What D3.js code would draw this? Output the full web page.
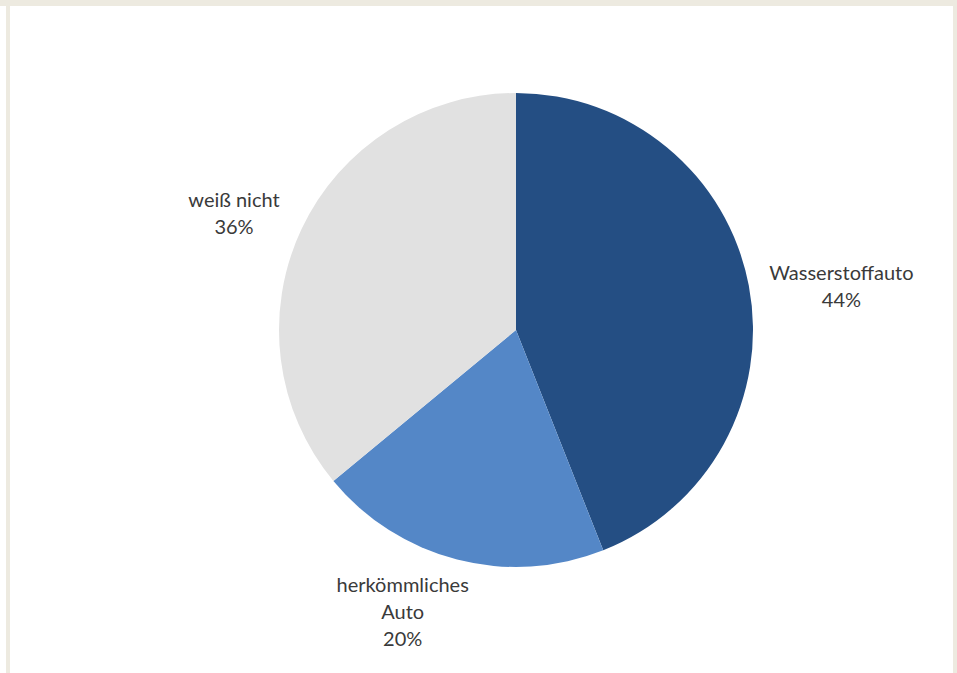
<!DOCTYPE html>
<html>
<head>
<meta charset="utf-8">
<script src="https://cdn.jsdelivr.net/npm/d3@7"></script>
<style>
  html, body { margin: 0; padding: 0; background: #ffffff; }
  svg { display: block; }
</style>
</head>
<body>
<svg id="chart" width="957" height="673"></svg>
<script>
// Umfrage: Welches Auto würden Sie wählen?
const categories = ["Wasserstoffauto", "herkömmliches Auto", "weiß nicht"];
const labelLines = [["Wasserstoffauto"], ["herkömmliches", "Auto"], ["weiß nicht"]];
const values = [44, 20, 36];
const colors = ["#244e83", "#5487c7", "#e1e1e1"];

const width = 957, height = 673;
const cx = 516, cy = 330, radius = 237;
const labelRadius = 315;
const lineHeight = 27;
// label block nudges relative to the outer centroid (Excel best-fit style)
const labelNudge = [[16, 16], [-35, -23], [3, 18]];

const svg = d3.select("#chart");

// frame: beige border on top, left and right of the white panel
svg.append("rect").attr("x", 0).attr("y", 0).attr("width", width).attr("height", 6).attr("fill", "#edeae0");
svg.append("rect").attr("x", 6).attr("y", 0).attr("width", 4).attr("height", height).attr("fill", "#edeae0");
svg.append("rect").attr("x", 953).attr("y", 0).attr("width", 4).attr("height", height).attr("fill", "#edeae0");

const data = categories.map((c, i) => ({ name: c, value: values[i], lines: labelLines[i], color: colors[i], i }));

const pie = d3.pie().value(d => d.value).sort(null);
const arc = d3.arc().innerRadius(0).outerRadius(radius);
const labelArc = d3.arc().innerRadius(labelRadius).outerRadius(labelRadius);

const g = svg.append("g").attr("transform", `translate(${cx},${cy})`);
const arcs = pie(data);

g.selectAll("path.slice")
  .data(arcs)
  .join("path")
  .attr("class", "slice")
  .attr("d", arc)
  .attr("fill", d => d.data.color);

g.selectAll("text.label")
  .data(arcs)
  .join("text")
  .attr("class", "label")
  .attr("text-anchor", "middle")
  .attr("font-family", "Lato, 'Open Sans', sans-serif")
  .attr("font-size", 20)
  .attr("fill", "#3a3a3a")
  .each(function(d) {
    const [x0, y0] = labelArc.centroid(d);
    const [nx, ny] = labelNudge[d.data.i];
    const x = x0 + nx, y = y0 + ny;
    const lines = d.data.lines.concat([d3.format(".0%")(d.data.value / 100)]);
    const n = lines.length;
    const t = d3.select(this);
    lines.forEach((line, k) => {
      t.append("tspan")
        .attr("x", x)
        .attr("y", y - (n - 1) * lineHeight / 2 + k * lineHeight)
        .attr("dy", "0.35em")
        .text(line);
    });
  });
</script>
</body>
</html>
